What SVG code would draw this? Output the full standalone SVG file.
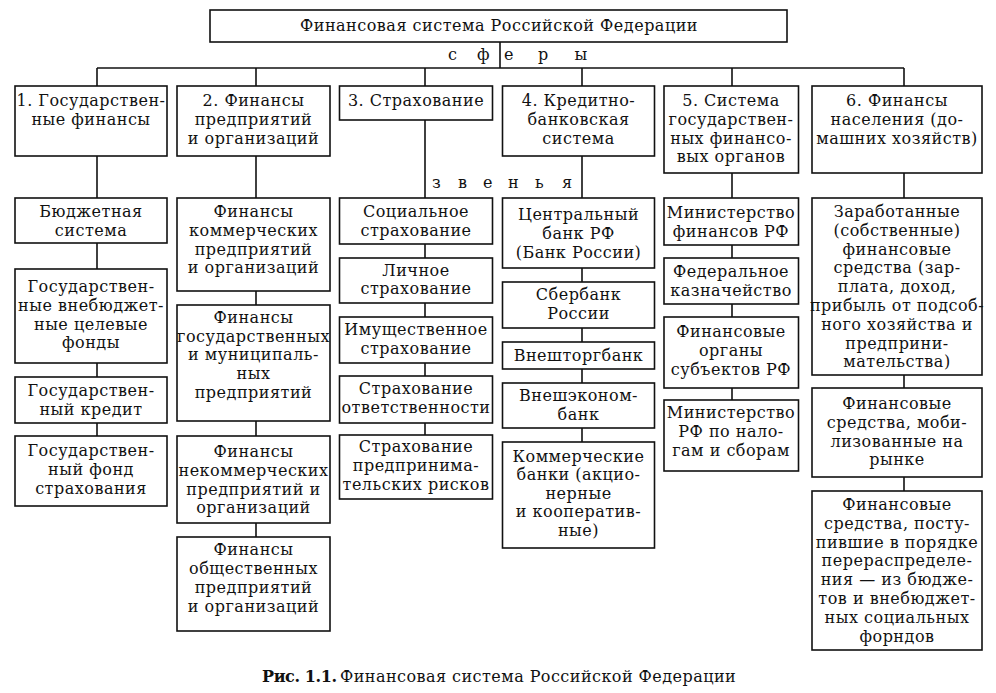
<svg xmlns="http://www.w3.org/2000/svg" width="996" height="693" viewBox="0 0 996 693">
<style>
.b{fill:#fff;stroke:#111;stroke-width:1.6}
.c line{stroke:#111;stroke-width:1.6}
text{font-family:"DejaVu Serif","Liberation Serif",serif;font-size:16px;fill:#111;letter-spacing:0.5px}
.m{text-anchor:middle}
.cap{font-size:16px}
</style>
<rect width="996" height="693" fill="#fff"/>
<g id="connectors" class="c">
<line x1="500" y1="42" x2="500" y2="68"/>
<line x1="97" y1="68" x2="904" y2="68"/>
<line x1="97" y1="68" x2="97" y2="86"/>
<line x1="256" y1="68" x2="256" y2="86"/>
<line x1="425" y1="68" x2="425" y2="86"/>
<line x1="582" y1="68" x2="582" y2="86"/>
<line x1="732" y1="68" x2="732" y2="86"/>
<line x1="904" y1="68" x2="904" y2="86"/>
<line x1="97" y1="156" x2="97" y2="198"/>
<line x1="256" y1="156" x2="256" y2="198"/>
<line x1="425" y1="120" x2="425" y2="198"/>
<line x1="582" y1="156" x2="582" y2="198"/>
<line x1="732" y1="173" x2="732" y2="198"/>
<line x1="904" y1="173" x2="904" y2="198"/>
<line x1="97" y1="243" x2="97" y2="269"/>
<line x1="97" y1="363" x2="97" y2="377"/>
<line x1="97" y1="423" x2="97" y2="436"/>
<line x1="256" y1="291" x2="256" y2="305"/>
<line x1="256" y1="421" x2="256" y2="436"/>
<line x1="256" y1="523" x2="256" y2="537"/>
<line x1="425" y1="244" x2="425" y2="258"/>
<line x1="425" y1="303" x2="425" y2="317"/>
<line x1="425" y1="363" x2="425" y2="376"/>
<line x1="425" y1="423" x2="425" y2="435"/>
<line x1="582" y1="268" x2="582" y2="282"/>
<line x1="582" y1="328" x2="582" y2="342"/>
<line x1="582" y1="369" x2="582" y2="383"/>
<line x1="582" y1="428" x2="582" y2="442"/>
<line x1="732" y1="245" x2="732" y2="258"/>
<line x1="732" y1="304" x2="732" y2="317"/>
<line x1="732" y1="388" x2="732" y2="400"/>
<line x1="904" y1="375" x2="904" y2="388"/>
<line x1="904" y1="477" x2="904" y2="491"/>
</g>
<g id="labels">
<text x="448 477 504 538 569" y="60">сфер ы</text>
<text x="432 458 483 508 535 562" y="188">звенья</text>
</g>
<g id="root"><rect class="b" x="210" y="10" width="577" height="32"/><text class="m" x="499" y="31">Финансовая система Российской Федерации</text></g>
<g id="s1"><rect class="b" x="15" y="86" width="152" height="70"/><text class="m" x="91" y="106">1. Государствен-</text><text class="m" x="91" y="125">ные  финансы</text></g>
<g id="s2"><rect class="b" x="177" y="86" width="153" height="70"/><text class="m" x="253.5" y="106">2. Финансы</text><text class="m" x="253.5" y="125">предприятий</text><text class="m" x="253.5" y="144">и организаций</text></g>
<g id="s3"><rect class="b" x="339.5" y="86" width="153" height="34"/><text class="m" x="416" y="106">3. Страхование</text></g>
<g id="s4"><rect class="b" x="502.5" y="86" width="152" height="70"/><text class="m" x="578.5" y="106">4. Кредитно-</text><text class="m" x="578.5" y="125">банковская</text><text class="m" x="578.5" y="144">система</text></g>
<g id="s5"><rect class="b" x="664" y="86" width="134.5" height="87"/><text class="m" x="731" y="106">5. Система</text><text class="m" x="731" y="125">государствен-</text><text class="m" x="731" y="144">ных финансо-</text><text class="m" x="731" y="162">вых органов</text></g>
<g id="s6"><rect class="b" x="812" y="86" width="170" height="87"/><text class="m" x="897" y="106">6. Финансы</text><text class="m" x="897" y="125">населения (до-</text><text class="m" x="897" y="144">машних хозяйств)</text></g>

<g id="c1a"><rect class="b" x="15" y="198" width="152" height="45"/><text class="m" x="91" y="217">Бюджетная</text><text class="m" x="91" y="236">система</text></g>
<g id="c1b"><rect class="b" x="15" y="269" width="152" height="94"/><text class="m" x="91" y="292">Государствен-</text><text class="m" x="91" y="311">ные внебюджет-</text><text class="m" x="91" y="330">ные  целевые</text><text class="m" x="91" y="348">фонды</text></g>
<g id="c1c"><rect class="b" x="15" y="377" width="152" height="46"/><text class="m" x="91" y="396">Государствен-</text><text class="m" x="91" y="415">ный кредит</text></g>
<g id="c1d"><rect class="b" x="15" y="436" width="152" height="70"/><text class="m" x="91" y="456">Государствен-</text><text class="m" x="91" y="475">ный фонд</text><text class="m" x="91" y="494">страхования</text></g>

<g id="c2a"><rect class="b" x="177" y="198" width="153" height="93"/><text class="m" x="253.5" y="217">Финансы</text><text class="m" x="253.5" y="236">коммерческих</text><text class="m" x="253.5" y="255">предприятий</text><text class="m" x="253.5" y="273">и организаций</text></g>
<g id="c2b"><rect class="b" x="177" y="305" width="153" height="116"/><text class="m" x="253.5" y="323">Финансы</text><text class="m" x="253.5" y="342">государственных</text><text class="m" x="253.5" y="360">и муниципаль-</text><text class="m" x="253.5" y="379">ных</text><text class="m" x="253.5" y="398">предприятий</text></g>
<g id="c2c"><rect class="b" x="177" y="436" width="153" height="87"/><text class="m" x="253.5" y="457">Финансы</text><text class="m" x="253.5" y="476">некоммерческих</text><text class="m" x="253.5" y="495">предприятий и</text><text class="m" x="253.5" y="513">организаций</text></g>
<g id="c2d"><rect class="b" x="177" y="537" width="153" height="94"/><text class="m" x="253.5" y="555">Финансы</text><text class="m" x="253.5" y="574">общественных</text><text class="m" x="253.5" y="593">предприятий</text><text class="m" x="253.5" y="612">и организаций</text></g>

<g id="c3a"><rect class="b" x="339.5" y="198" width="153" height="46"/><text class="m" x="416" y="217">Социальное</text><text class="m" x="416" y="236">страхование</text></g>
<g id="c3b"><rect class="b" x="339.5" y="258" width="153" height="45"/><text class="m" x="416" y="276">Личное</text><text class="m" x="416" y="294">страхование</text></g>
<g id="c3c"><rect class="b" x="339.5" y="317" width="153" height="46"/><text class="m" x="416" y="335">Имущественное</text><text class="m" x="416" y="354">страхование</text></g>
<g id="c3d"><rect class="b" x="339.5" y="376" width="153" height="47"/><text class="m" x="416" y="394">Страхование</text><text class="m" x="416" y="413">ответственности</text></g>
<g id="c3e"><rect class="b" x="339.5" y="435" width="153" height="64"/><text class="m" x="416" y="452">Страхование</text><text class="m" x="416" y="471">предпринима-</text><text class="m" x="416" y="490">тельских рисков</text></g>

<g id="c4a"><rect class="b" x="502.5" y="198" width="152" height="70"/><text class="m" x="578.5" y="220">Центральный</text><text class="m" x="578.5" y="239">банк РФ</text><text class="m" x="578.5" y="258">(Банк России)</text></g>
<g id="c4b"><rect class="b" x="502.5" y="282" width="152" height="46"/><text class="m" x="578.5" y="300">Сбербанк</text><text class="m" x="578.5" y="319">России</text></g>
<g id="c4c"><rect class="b" x="502.5" y="342" width="152" height="27"/><text class="m" x="578.5" y="361">Внешторгбанк</text></g>
<g id="c4d"><rect class="b" x="502.5" y="383" width="152" height="45"/><text class="m" x="578.5" y="401">Внешэконом-</text><text class="m" x="578.5" y="420">банк</text></g>
<g id="c4e"><rect class="b" x="502.5" y="442" width="152" height="106"/><text class="m" x="578.5" y="462">Коммерческие</text><text class="m" x="578.5" y="480">банки (акцио-</text><text class="m" x="578.5" y="499">нерные</text><text class="m" x="578.5" y="517">и кооператив-</text><text class="m" x="578.5" y="536">ные)</text></g>

<g id="c5a"><rect class="b" x="664" y="198" width="134.5" height="47"/><text class="m" x="731" y="218">Министерство</text><text class="m" x="731" y="237">финансов РФ</text></g>
<g id="c5b"><rect class="b" x="664" y="258" width="134.5" height="46"/><text class="m" x="731" y="277">Федеральное</text><text class="m" x="731" y="296">казначейство</text></g>
<g id="c5c"><rect class="b" x="664" y="317" width="134.5" height="71"/><text class="m" x="731" y="337">Финансовые</text><text class="m" x="731" y="356">органы</text><text class="m" x="731" y="375">субъектов РФ</text></g>
<g id="c5d"><rect class="b" x="664" y="400" width="134.5" height="71"/><text class="m" x="731" y="418">Министерство</text><text class="m" x="731" y="437">РФ по нало-</text><text class="m" x="731" y="456">гам и сборам</text></g>

<g id="c6a"><rect class="b" x="812" y="198" width="170" height="177"/><text class="m" x="897" y="217">Заработанные</text><text class="m" x="897" y="236">(собственные)</text><text class="m" x="897" y="255">финансовые</text><text class="m" x="897" y="273">средства (зар-</text><text class="m" x="897" y="292">плата,  доход,</text><text class="m" x="897" y="311">прибыль от подсоб-</text><text class="m" x="897" y="330">ного хозяйства и</text><text class="m" x="897" y="349">предприни-</text><text class="m" x="897" y="367">мательства)</text></g>
<g id="c6b"><rect class="b" x="812" y="388" width="170" height="89"/><text class="m" x="897" y="409">Финансовые</text><text class="m" x="897" y="428">средства,  моби-</text><text class="m" x="897" y="447">лизованные  на</text><text class="m" x="897" y="465">рынке</text></g>
<g id="c6c"><rect class="b" x="812" y="491" width="170" height="159"/><text class="m" x="897" y="510">Финансовые</text><text class="m" x="897" y="529">средства,  посту-</text><text class="m" x="897" y="548">пившие в порядке</text><text class="m" x="897" y="566">перераспределе-</text><text class="m" x="897" y="585">ния — из бюдже-</text><text class="m" x="897" y="604">тов и внебюджет-</text><text class="m" x="897" y="623">ных социальных</text><text class="m" x="897" y="642">форндов</text></g>

<g id="caption"><text class="cap" y="682"><tspan x="262" font-weight="bold" letter-spacing="-0.4">Рис. 1.1.</tspan><tspan x="340" letter-spacing="0.45">Финансовая система Российской Федерации</tspan></text></g>
</svg>
